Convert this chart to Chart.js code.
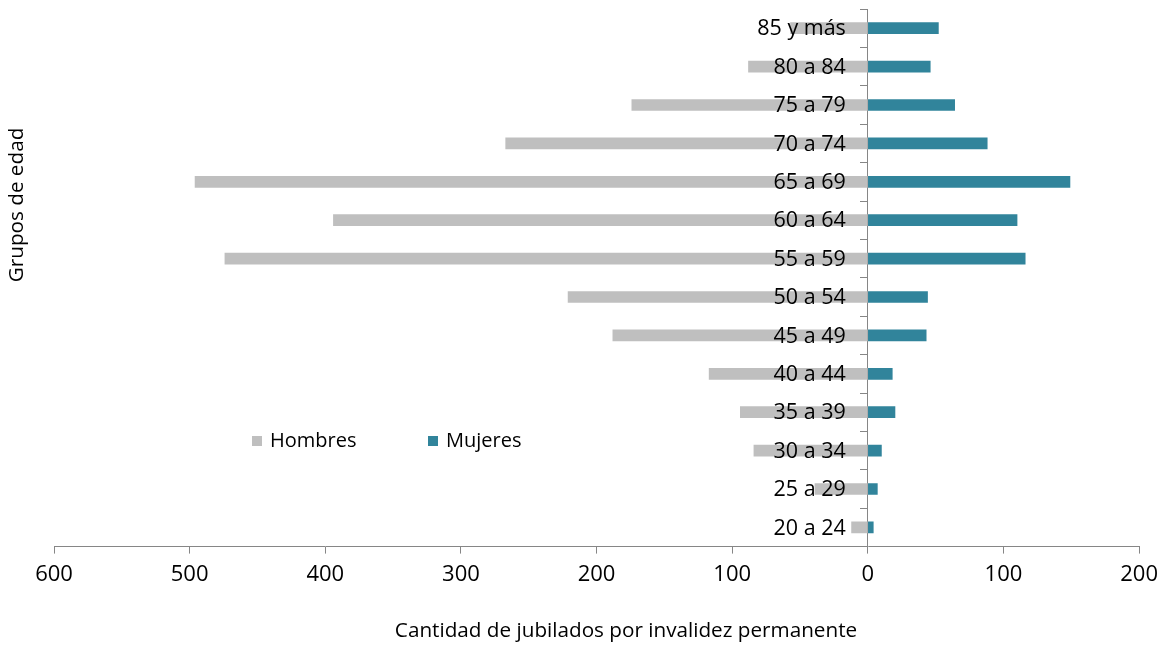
<!DOCTYPE html>
<html>
<head>
<meta charset="utf-8">
<script src="https://cdn.jsdelivr.net/npm/chart.js@4"></script>
<style>
  html, body { margin: 0; padding: 0; background: #ffffff; }
  #wrap { width: 1166px; height: 646px; }
</style>
</head>
<body>
<div id="wrap"><canvas id="chart" width="1166" height="646"></canvas></div>
<script>
// age groups, top to bottom
const grupos = ["85 y más", "80 a 84", "75 a 79", "70 a 74", "65 a 69", "60 a 64", "55 a 59",
                "50 a 54", "45 a 49", "40 a 44", "35 a 39", "30 a 34", "25 a 29", "20 a 24"]
const hombres = [57, 88, 174, 267, 496, 394, 474, 221, 188, 117, 94, 84, 39, 12]
const mujeres = [52, 46, 64, 88, 149, 110, 116, 44, 43, 18, 20, 10, 7, 4]
const xTicks = [-600, -500, -400, -300, -200, -100, 0, 100, 200]

const gris = "#BFBFBF"
const azul = "#31849B"
const ejeColor = "#868686"
const fuente = "'Open Sans', sans-serif"

// category labels go over the bars, next to the zero line
const etiquetas = {
    id: "etiquetas",
    afterDatasetsDraw(chart) {
        const ctx = chart.ctx
        const x0 = chart.scales.x.getPixelForValue(0)
        ctx.save()
        ctx.fillStyle = "#000000"
        ctx.font = "21.5px " + fuente
        ctx.textAlign = "right"
        ctx.textBaseline = "middle"
        chart.data.labels.forEach((lab, i) => {
            ctx.fillText(lab, x0 - 22, chart.scales.y.getPixelForTick(i) + 1)
        })
        ctx.restore()
    }
}

// titles + legend drawn by hand so they sit where the original has them
const extras = {
    id: "extras",
    afterDraw(chart) {
        const ctx = chart.ctx
        ctx.save()
        ctx.fillStyle = "#000000"
        ctx.font = "20.7px " + fuente
        ctx.textAlign = "center"
        ctx.textBaseline = "middle"
        ctx.fillText("Cantidad de jubilados por invalidez permanente", 626, 631)

        ctx.translate(17, 205)
        ctx.rotate(-Math.PI / 2)
        ctx.fillText("Grupos de edad", 0, 0)
        ctx.restore()

        // legend
        ctx.save()
        ctx.font = "20px " + fuente
        ctx.textAlign = "left"
        ctx.textBaseline = "middle"
        const items = [[chart.data.datasets[0], 252], [chart.data.datasets[1], 428]]
        items.forEach(([ds, x]) => {
            ctx.fillStyle = ds.backgroundColor
            ctx.fillRect(x, 436, 10, 10)
            ctx.fillStyle = "#000000"
            ctx.fillText(ds.label, x + 18, 441)
        })
        ctx.restore()
    }
}

new Chart(document.getElementById("chart"), {
    type: "bar",
    data: {
        labels: grupos,
        datasets: [{
            label: "Hombres",
            data: hombres.map(v => -v),
            backgroundColor: gris,
            barThickness: 11
        }, {
            label: "Mujeres",
            data: mujeres,
            backgroundColor: azul,
            barThickness: 11
        }]
    },
    options: {
        indexAxis: "y",
        responsive: false,
        animation: false,
        layout: {
            padding: { left: 54, right: 26, top: 9, bottom: 50 }
        },
        scales: {
            x: {
                stacked: true,
                min: -600,
                max: 200,
                afterBuildTicks: axis => {
                    axis.ticks = xTicks.map(v => ({ value: v }))
                },
                ticks: {
                    color: "#000000",
                    padding: 8,
                    maxRotation: 0,
                    font: { family: fuente, size: 22 },
                    callback: v => Math.abs(v)
                },
                grid: {
                    drawOnChartArea: false,
                    tickLength: 7,
                    color: ejeColor
                },
                border: { color: ejeColor }
            },
            y: {
                stacked: true,
                position: { x: 0 },
                ticks: { display: false },
                grid: {
                    drawOnChartArea: false,
                    tickLength: 7,
                    offset: true,
                    color: ejeColor
                },
                border: { color: ejeColor }
            }
        },
        plugins: {
            legend: { display: false },
            tooltip: { enabled: false }
        }
    },
    plugins: [etiquetas, extras]
})
</script>
</body>
</html>
